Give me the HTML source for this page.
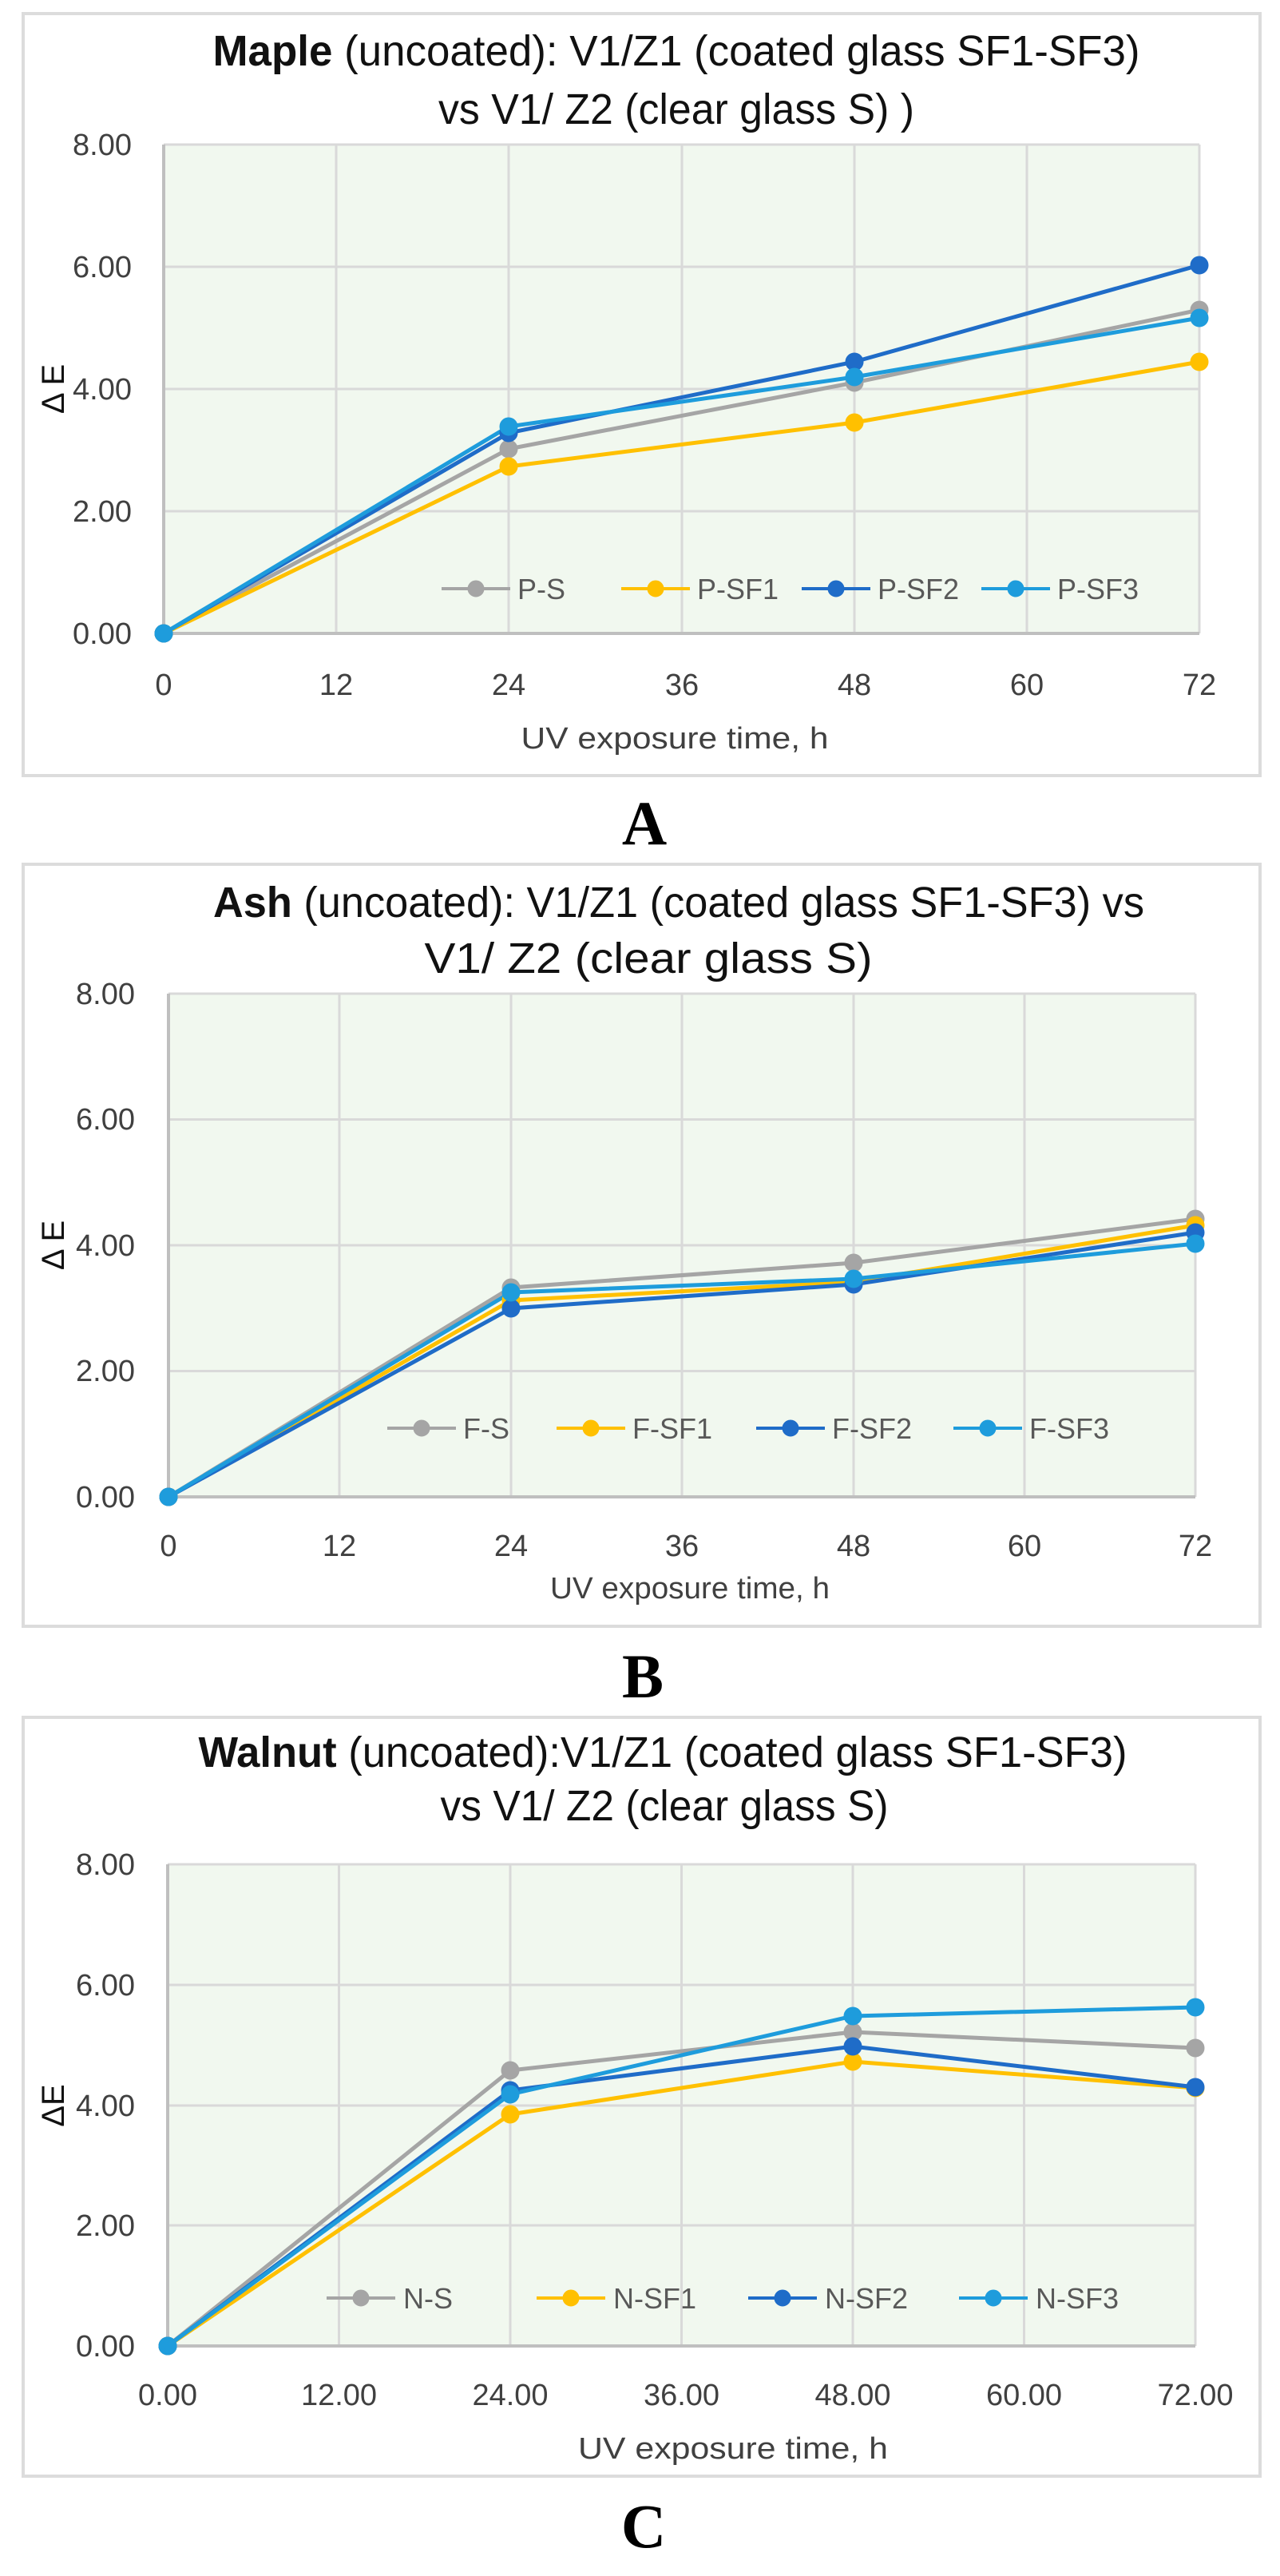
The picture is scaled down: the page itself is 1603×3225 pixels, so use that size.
<!DOCTYPE html>
<html><head><meta charset="utf-8"><style>
html,body{margin:0;padding:0;background:#fff;}
svg{display:block;font-family:"Liberation Sans",sans-serif;}
.t{font-size:54px;fill:#111;}
.yt{font-size:38px;fill:#404040;text-anchor:end;}
.xt{font-size:38px;fill:#404040;text-anchor:middle;}
.ax{font-size:38px;fill:#404040;text-anchor:middle;}
.lg{font-size:36px;fill:#595959;}
.g{stroke:#d9d9d9;stroke-width:3;fill:none;}
.S{stroke:#a5a5a5;fill:#a5a5a5;}
.F1{stroke:#ffc000;fill:#ffc000;}
.F2{stroke:#1f6cc8;fill:#1f6cc8;}
.F3{stroke:#1e9cdc;fill:#1e9cdc;}
.ln{stroke-width:5;fill:none;}
.lt{font-family:"Liberation Serif",serif;font-weight:bold;font-size:78px;fill:#000;text-anchor:middle;}
</style></head><body>
<svg width="1603" height="3225" viewBox="0 0 1603 3225" xmlns="http://www.w3.org/2000/svg">
<rect width="1603" height="3225" fill="#fff"/>

<!-- ===== Chart A ===== -->
<rect x="29" y="17" width="1549" height="954" fill="#fff" stroke="#dcdcdc" stroke-width="4"/>
<text class="t" x="847" y="82" text-anchor="middle" textLength="1161" lengthAdjust="spacingAndGlyphs"><tspan font-weight="bold">Maple</tspan> (uncoated): V1/Z1 (coated glass SF1-SF3)</text>
<text class="t" x="847" y="155" text-anchor="middle" textLength="596" lengthAdjust="spacingAndGlyphs">vs V1/ Z2 (clear glass S) )</text>
<rect x="205" y="181" width="1297" height="612" fill="#f1f8ef"/>
<path class="g" d="M205 640H1502M205 487H1502M205 334H1502M205 181H1502M421 181V793M637 181V793M854 181V793M1070 181V793M1286 181V793M1502 181V793"/>
<path d="M205 181V795M203 793H1502" stroke="#bfbfbf" stroke-width="4" fill="none"/>
<text class="yt" x="165" y="806">0.00</text><text class="yt" x="165" y="653">2.00</text><text class="yt" x="165" y="500">4.00</text><text class="yt" x="165" y="347">6.00</text><text class="yt" x="165" y="194">8.00</text>
<text class="xt" x="205" y="870">0</text><text class="xt" x="421" y="870">12</text><text class="xt" x="637" y="870">24</text><text class="xt" x="854" y="870">36</text><text class="xt" x="1070" y="870">48</text><text class="xt" x="1286" y="870">60</text><text class="xt" x="1502" y="870">72</text>
<text class="ax" x="845" y="937" textLength="385" lengthAdjust="spacingAndGlyphs">UV exposure time, h</text>
<text x="80" y="487" font-size="40" fill="#111" text-anchor="middle" transform="rotate(-90 80 487)">Δ E</text>
<g>
<polyline class="ln S" points="205,793 637,562 1070,479 1502,388"/>
<polyline class="ln F1" points="205,793 637,584 1070,529 1502,453"/>
<polyline class="ln F2" points="205,793 637,542 1070,453 1502,332"/>
<polyline class="ln F3" points="205,793 637,534 1070,472 1502,398"/>
<g class="S"><circle cx="205" cy="793" r="11"/><circle cx="637" cy="562" r="11"/><circle cx="1070" cy="479" r="11"/><circle cx="1502" cy="388" r="11"/></g>
<g class="F1"><circle cx="205" cy="793" r="11"/><circle cx="637" cy="584" r="11"/><circle cx="1070" cy="529" r="11"/><circle cx="1502" cy="453" r="11"/></g>
<g class="F2"><circle cx="205" cy="793" r="11"/><circle cx="637" cy="542" r="11"/><circle cx="1070" cy="453" r="11"/><circle cx="1502" cy="332" r="11"/></g>
<g class="F3"><circle cx="205" cy="793" r="11"/><circle cx="637" cy="534" r="11"/><circle cx="1070" cy="472" r="11"/><circle cx="1502" cy="398" r="11"/></g>
</g>
<g>
<path class="S" stroke-width="4" d="M553 737H639"/><circle class="S" cx="596" cy="737" r="10"/><text class="lg" x="648" y="750">P-S</text>
<path class="F1" stroke-width="4" d="M778 737H864"/><circle class="F1" cx="821" cy="737" r="10"/><text class="lg" x="873" y="750">P-SF1</text>
<path class="F2" stroke-width="4" d="M1004 737H1090"/><circle class="F2" cx="1047" cy="737" r="10"/><text class="lg" x="1099" y="750">P-SF2</text>
<path class="F3" stroke-width="4" d="M1229 737H1315"/><circle class="F3" cx="1272" cy="737" r="10"/><text class="lg" x="1324" y="750">P-SF3</text>
</g>
<text class="lt" x="807" y="1057">A</text>

<!-- ===== Chart B ===== -->
<rect x="29" y="1082" width="1549" height="954" fill="#fff" stroke="#dcdcdc" stroke-width="4"/>
<text class="t" x="850" y="1148" text-anchor="middle" textLength="1166" lengthAdjust="spacingAndGlyphs"><tspan font-weight="bold">Ash</tspan> (uncoated):  V1/Z1 (coated glass SF1-SF3) vs</text>
<text class="t" x="812" y="1218" text-anchor="middle" textLength="561" lengthAdjust="spacingAndGlyphs">V1/ Z2 (clear glass S)</text>
<rect x="211" y="1244" width="1286" height="630" fill="#f1f8ef"/>
<path class="g" d="M211 1716.5H1497M211 1559H1497M211 1401.5H1497M211 1244H1497M425 1244V1874M640 1244V1874M854 1244V1874M1069 1244V1874M1283 1244V1874M1497 1244V1874"/>
<path d="M211 1244V1876M209 1874H1497" stroke="#bfbfbf" stroke-width="4" fill="none"/>
<text class="yt" x="169" y="1887">0.00</text><text class="yt" x="169" y="1729">2.00</text><text class="yt" x="169" y="1572">4.00</text><text class="yt" x="169" y="1414">6.00</text><text class="yt" x="169" y="1257">8.00</text>
<text class="xt" x="211" y="1948">0</text><text class="xt" x="425" y="1948">12</text><text class="xt" x="640" y="1948">24</text><text class="xt" x="854" y="1948">36</text><text class="xt" x="1069" y="1948">48</text><text class="xt" x="1283" y="1948">60</text><text class="xt" x="1497" y="1948">72</text>
<text class="ax" x="864" y="2001" textLength="350" lengthAdjust="spacingAndGlyphs">UV exposure time, h</text>
<text x="80" y="1559" font-size="40" fill="#111" text-anchor="middle" transform="rotate(-90 80 1559)">Δ E</text>
<g>
<polyline class="ln S" points="211,1874 640,1612 1069,1581 1497,1526"/>
<polyline class="ln F1" points="211,1874 640,1628 1069,1605 1497,1534"/>
<polyline class="ln F2" points="211,1874 640,1638 1069,1608 1497,1543"/>
<polyline class="ln F3" points="211,1874 640,1618 1069,1601 1497,1557"/>
<g class="S"><circle cx="211" cy="1874" r="11"/><circle cx="640" cy="1612" r="11"/><circle cx="1069" cy="1581" r="11"/><circle cx="1497" cy="1526" r="11"/></g>
<g class="F1"><circle cx="211" cy="1874" r="11"/><circle cx="640" cy="1628" r="11"/><circle cx="1069" cy="1605" r="11"/><circle cx="1497" cy="1534" r="11"/></g>
<g class="F2"><circle cx="211" cy="1874" r="11"/><circle cx="640" cy="1638" r="11"/><circle cx="1069" cy="1608" r="11"/><circle cx="1497" cy="1543" r="11"/></g>
<g class="F3"><circle cx="211" cy="1874" r="11"/><circle cx="640" cy="1618" r="11"/><circle cx="1069" cy="1601" r="11"/><circle cx="1497" cy="1557" r="11"/></g>
</g>
<g>
<path class="S" stroke-width="4" d="M485 1788H571"/><circle class="S" cx="528" cy="1788" r="10"/><text class="lg" x="580" y="1801">F-S</text>
<path class="F1" stroke-width="4" d="M697 1788H783"/><circle class="F1" cx="740" cy="1788" r="10"/><text class="lg" x="792" y="1801">F-SF1</text>
<path class="F2" stroke-width="4" d="M947 1788H1033"/><circle class="F2" cx="990" cy="1788" r="10"/><text class="lg" x="1042" y="1801">F-SF2</text>
<path class="F3" stroke-width="4" d="M1194 1788H1280"/><circle class="F3" cx="1237" cy="1788" r="10"/><text class="lg" x="1289" y="1801">F-SF3</text>
</g>
<text class="lt" x="805" y="2125">B</text>

<!-- ===== Chart C ===== -->
<rect x="29" y="2150" width="1549" height="950" fill="#fff" stroke="#dcdcdc" stroke-width="4"/>
<text class="t" x="830" y="2212" text-anchor="middle" textLength="1163" lengthAdjust="spacingAndGlyphs"><tspan font-weight="bold">Walnut</tspan> (uncoated):V1/Z1 (coated glass SF1-SF3)</text>
<text class="t" x="832" y="2279" text-anchor="middle" textLength="561" lengthAdjust="spacingAndGlyphs">vs V1/ Z2 (clear glass S)</text>
<rect x="210" y="2334" width="1287" height="603" fill="#f1f8ef"/>
<path class="g" d="M210 2786H1497M210 2636H1497M210 2485H1497M210 2334H1497M424.5 2334V2937M639 2334V2937M853.5 2334V2937M1068 2334V2937M1282.5 2334V2937M1497 2334V2937"/>
<path d="M210 2334V2939M208 2937H1497" stroke="#bfbfbf" stroke-width="4" fill="none"/>
<text class="yt" x="169" y="2950">0.00</text><text class="yt" x="169" y="2799">2.00</text><text class="yt" x="169" y="2649">4.00</text><text class="yt" x="169" y="2498">6.00</text><text class="yt" x="169" y="2347">8.00</text>
<text class="xt" x="210" y="3011">0.00</text><text class="xt" x="424.5" y="3011">12.00</text><text class="xt" x="639" y="3011">24.00</text><text class="xt" x="853.5" y="3011">36.00</text><text class="xt" x="1068" y="3011">48.00</text><text class="xt" x="1282.5" y="3011">60.00</text><text class="xt" x="1497" y="3011">72.00</text>
<text class="ax" x="918" y="3078" textLength="388" lengthAdjust="spacingAndGlyphs">UV exposure time, h</text>
<text x="80" y="2636" font-size="40" fill="#111" text-anchor="middle" transform="rotate(-90 80 2636)">ΔE</text>
<g>
<polyline class="ln S" points="210,2937 639,2592 1068,2544 1497,2564"/>
<polyline class="ln F1" points="210,2937 639,2647 1068,2581 1497,2614"/>
<polyline class="ln F2" points="210,2937 639,2617 1068,2562 1497,2613"/>
<polyline class="ln F3" points="210,2937 639,2622 1068,2524 1497,2513"/>
<g class="S"><circle cx="210" cy="2937" r="11"/><circle cx="639" cy="2592" r="11"/><circle cx="1068" cy="2544" r="11"/><circle cx="1497" cy="2564" r="11"/></g>
<g class="F1"><circle cx="210" cy="2937" r="11"/><circle cx="639" cy="2647" r="11"/><circle cx="1068" cy="2581" r="11"/><circle cx="1497" cy="2614" r="11"/></g>
<g class="F2"><circle cx="210" cy="2937" r="11"/><circle cx="639" cy="2617" r="11"/><circle cx="1068" cy="2562" r="11"/><circle cx="1497" cy="2613" r="11"/></g>
<g class="F3"><circle cx="210" cy="2937" r="11"/><circle cx="639" cy="2622" r="11"/><circle cx="1068" cy="2524" r="11"/><circle cx="1497" cy="2513" r="11"/></g>
</g>
<g>
<path class="S" stroke-width="4" d="M409 2877H495"/><circle class="S" cx="452" cy="2877" r="10"/><text class="lg" x="505" y="2890">N-S</text>
<path class="F1" stroke-width="4" d="M672 2877H758"/><circle class="F1" cx="715" cy="2877" r="10"/><text class="lg" x="768" y="2890">N-SF1</text>
<path class="F2" stroke-width="4" d="M937 2877H1023"/><circle class="F2" cx="980" cy="2877" r="10"/><text class="lg" x="1033" y="2890">N-SF2</text>
<path class="F3" stroke-width="4" d="M1201 2877H1287"/><circle class="F3" cx="1244" cy="2877" r="10"/><text class="lg" x="1297" y="2890">N-SF3</text>
</g>
<text class="lt" x="806" y="3189">C</text>
</svg>
</body></html>
